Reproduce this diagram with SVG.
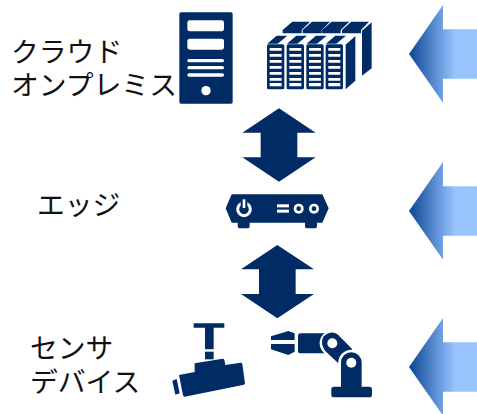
<svg xmlns="http://www.w3.org/2000/svg" width="477" height="414" viewBox="0 0 477 414">
<style>
.n{fill:#002b64}
.w{fill:#fff}
.t{font-family:"Noto Sans CJK JP","Noto Sans",sans-serif;font-size:27.8px;font-weight:400;fill:#111}
.f{fill:url(#g)}
</style>
<defs>
<linearGradient id="g" gradientUnits="objectBoundingBox" x1="0" y1="0" x2="1" y2="0">
<stop offset="0" stop-color="#0a4596"/>
<stop offset="0.68" stop-color="#99c5ff"/>
<stop offset="1" stop-color="#99c5ff"/>
</linearGradient>
<path id="la" d="M409 54L443 5V29.3H477V78.7H443V102.7Z"/>
<g id="unit">
<path class="n" d="M0 5Q0 0 5 0H47Q52 0 52 5V130Q52 135 47 135H5Q0 135 0 130Z"/>
<path class="w" d="M8 11H44V19H8ZM8 29H44V37H8ZM8 47H44V55H8ZM8 65H44V73H8ZM8 83H44V91H8ZM8 101H44V109H8ZM8 116H44V126H8Z"/>
</g>
<path id="top" d="M0 0L28 -24H60L31 0Z"/>
</defs>

<g id="connectors">
<path class="n" transform="translate(215,100) scale(.3333)" d="M192 25L302 98H247V172H302L192 245L82 172H137V98H82Z"/>
<path class="n" transform="translate(215,100) scale(.3333)" d="M187 435L297 508H242V582H297L187 655L78 582H132V508H78Z"/>
<use href="#la" class="f"/>
<use href="#la" class="f" y="157"/>
<use href="#la" class="f" y="313"/>
</g>

<g id="server" transform="translate(170,0) scale(.3333)">
<rect class="n" x="28" y="37" width="160" height="274" rx="5"/>
<rect class="w" x="52" y="61" width="110" height="33" rx="7"/>
<rect class="w" x="52" y="116" width="110" height="33" rx="7"/>
<rect class="w" x="52" y="177" width="110" height="10" rx="5"/>
<rect class="w" x="52" y="198" width="110" height="10" rx="5"/>
<rect class="w" x="52" y="220" width="110" height="10" rx="5"/>
<circle class="w" cx="108" cy="272" r="14"/>
</g>

<g id="racks" transform="translate(170,0) scale(.3333)">
<path class="n" d="M338 100V90L367 65H420L395 90V100ZM398 90L426 65H480L455 90V100H398ZM456 90L485 65H538L512 90V100H456ZM516 90L544 65H597L573 90V100H516Z"/>
<path class="n" d="M576 92L605 67V205L576 227Z"/>
<g class="n">
<use href="#top" x="292" y="131"/><use href="#top" x="351" y="131"/><use href="#top" x="410" y="131"/><use href="#top" x="468" y="131"/>
</g>
<use href="#unit" x="291" y="133"/><use href="#unit" x="350" y="133"/><use href="#unit" x="409" y="133"/><use href="#unit" x="467" y="133"/>
<path class="n" d="M527 134L556 108V242L527 268Z"/>
</g>

<g id="router" transform="translate(215,100) scale(.3333)">
<path class="n" d="M50 283H322L341 325L322 368H306V378Q306 385 298 385H278Q270 385 270 378V368H104V378Q104 385 96 385H76Q68 385 68 378V368H50L32 325Z"/>
<circle cx="87" cy="328" r="19" fill="none" stroke="#fff" stroke-width="9"/>
<rect class="n" x="77" y="298" width="20" height="24"/>
<rect class="w" x="83" y="298" width="8" height="26"/>
<rect class="w" x="186" y="313" width="36" height="9"/>
<rect class="w" x="186" y="329" width="36" height="9"/>
<circle class="w" cx="251" cy="326" r="15"/><circle class="n" cx="251" cy="326" r="7"/>
<circle class="w" cx="297" cy="326" r="15"/><circle class="n" cx="297" cy="326" r="7"/>
</g>

<g id="camera" transform="translate(160,310) scale(.3333)">
<path class="n" d="M101 40H193V53H161V118H135V53H101Z"/>
<rect class="n" x="135" y="125" width="26" height="23"/>
<path class="n" d="M57 195L104 186V160L188 146Q192 146 193 150L196 165L242 158Q246 158 247 162L255 220Q255 223 252 224L74 260Q70 260 69 256Z"/>
<path class="n" d="M37 212L50 207L59 250L46 254Z"/>
</g>

<g id="robot-arm" transform="translate(160,310) scale(.3333)">
<path class="n" d="M333 79L385 63L404 70V90H333ZM333 102H404V125L385 135L333 118Z"/>
<rect class="n" x="414" y="70" width="90" height="60" rx="8"/>
<circle class="w" cx="517" cy="100" r="38"/>
<path class="n" d="M490 80Q517 55 540 80L577 118L535 160L495 122Q480 100 490 80Z"/>
<circle class="w" cx="517" cy="100" r="15"/>
<circle class="w" cx="574" cy="158" r="39"/>
<path class="n" d="M543 158A31 31 0 0 1 605 158V230H628Q636 230 636 238V254Q636 262 628 262H522Q514 262 514 254V238Q514 230 522 230H543Z"/>
<circle class="w" cx="574" cy="158" r="15"/>
</g>

<g id="label-cloud"><text class="t"><tspan x="11" y="62">クラウド</tspan><tspan x="11" y="95">オンプレミス</tspan></text></g>
<g id="label-edge"><text class="t" x="37" y="215">エッジ</text></g>
<g id="label-sensor"><text class="t"><tspan x="30" y="358">センサ</tspan><tspan x="30" y="392">デバイス</tspan></text></g>
</svg>
